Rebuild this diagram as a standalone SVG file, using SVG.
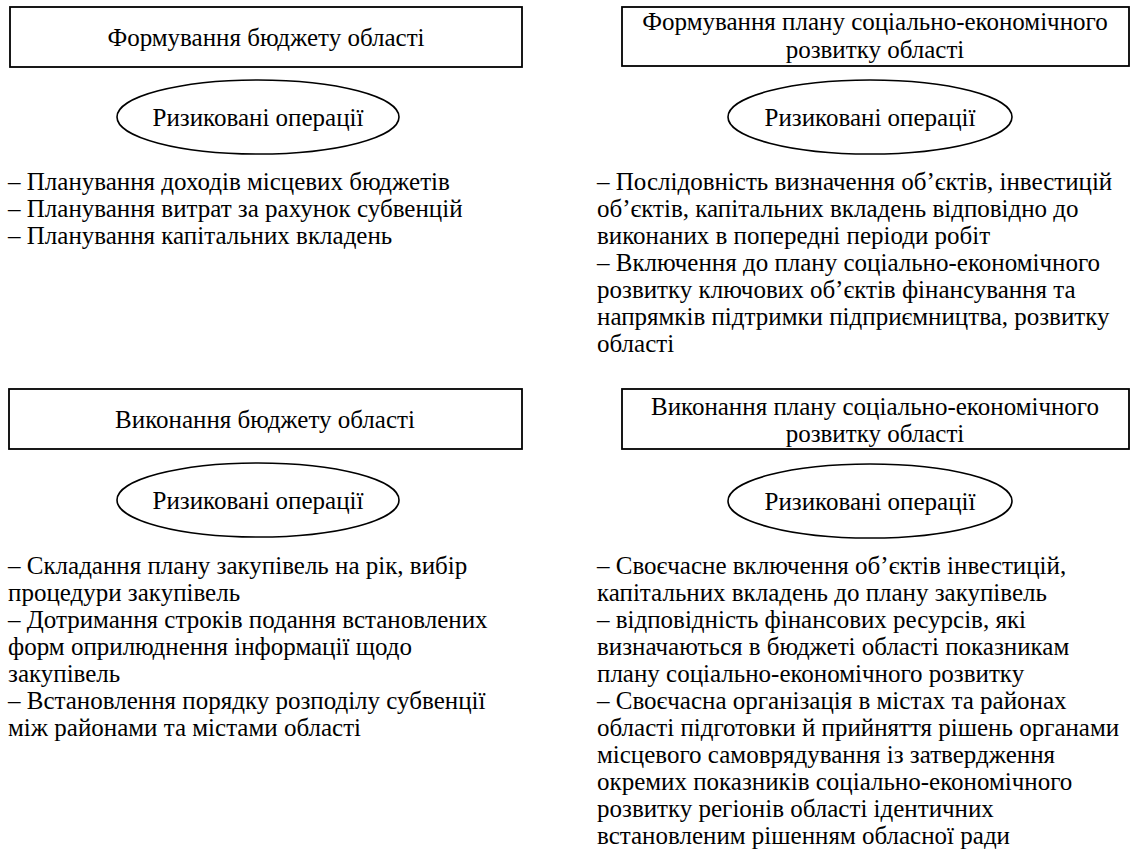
<svg xmlns="http://www.w3.org/2000/svg" width="1131" height="859" viewBox="0 0 1131 859">
<defs>
  <rect id="unused-def" width="0" height="0"/>
</defs>
<rect width="1131" height="859" fill="#ffffff"/>
<g id="connectors"></g>

<g id="box-form-budget">
  <rect fill="#ffffff" stroke="#000000" stroke-width="1.8" x="10" y="7" width="512" height="60"/>
  <text font-family="Liberation Serif" font-size="25" text-anchor="middle" x="266" y="46">Формування бюджету області</text>
</g>
<g id="ell-form-budget">
  <ellipse fill="#ffffff" stroke="#000000" stroke-width="1.6" cx="258" cy="117" rx="141" ry="37"/>
  <text font-family="Liberation Serif" font-size="25" text-anchor="middle" x="258" y="126">Ризиковані операції</text>
</g>
<g id="list-form-budget">
  <text font-family="Liberation Serif" font-size="25" x="8" y="190">– Планування доходів місцевих бюджетів</text>
  <text font-family="Liberation Serif" font-size="25" x="8" y="217">– Планування витрат за рахунок субвенцій</text>
  <text font-family="Liberation Serif" font-size="25" x="8" y="244">– Планування капітальних вкладень</text>
</g>

<g id="box-form-plan">
  <rect fill="#ffffff" stroke="#000000" stroke-width="1.8" x="622" y="7" width="507" height="59"/>
  <text font-family="Liberation Serif" font-size="25" text-anchor="middle" x="875" y="30">Формування плану соціально-економічного</text>
  <text font-family="Liberation Serif" font-size="25" text-anchor="middle" x="875" y="58">розвитку області</text>
</g>
<g id="ell-form-plan">
  <ellipse fill="#ffffff" stroke="#000000" stroke-width="1.6" cx="870" cy="117" rx="142" ry="37"/>
  <text font-family="Liberation Serif" font-size="25" text-anchor="middle" x="870" y="126">Ризиковані операції</text>
</g>
<g id="list-form-plan">
  <text font-family="Liberation Serif" font-size="25" x="597" y="190">– Послідовність визначення об’єктів, інвестицій</text>
  <text font-family="Liberation Serif" font-size="25" x="597" y="217">об’єктів, капітальних вкладень відповідно до</text>
  <text font-family="Liberation Serif" font-size="25" x="597" y="244">виконаних в попередні періоди робіт</text>
  <text font-family="Liberation Serif" font-size="25" x="597" y="271">– Включення до плану соціально-економічного</text>
  <text font-family="Liberation Serif" font-size="25" x="597" y="298">розвитку ключових об’єктів фінансування та</text>
  <text font-family="Liberation Serif" font-size="25" x="597" y="325">напрямків підтримки підприємництва, розвитку</text>
  <text font-family="Liberation Serif" font-size="25" x="597" y="352">області</text>
</g>

<g id="box-exec-budget">
  <rect fill="#ffffff" stroke="#000000" stroke-width="1.8" x="9" y="389" width="513" height="60"/>
  <text font-family="Liberation Serif" font-size="25" text-anchor="middle" x="265" y="428">Виконання бюджету області</text>
</g>
<g id="ell-exec-budget">
  <ellipse fill="#ffffff" stroke="#000000" stroke-width="1.6" cx="258" cy="500" rx="141" ry="37"/>
  <text font-family="Liberation Serif" font-size="25" text-anchor="middle" x="258" y="509">Ризиковані операції</text>
</g>
<g id="list-exec-budget">
  <text font-family="Liberation Serif" font-size="25" x="8" y="574">– Складання плану закупівель на рік, вибір</text>
  <text font-family="Liberation Serif" font-size="25" x="8" y="601">процедури закупівель</text>
  <text font-family="Liberation Serif" font-size="25" x="8" y="628">– Дотримання строків подання встановлених</text>
  <text font-family="Liberation Serif" font-size="25" x="8" y="655">форм оприлюднення інформації щодо</text>
  <text font-family="Liberation Serif" font-size="25" x="8" y="682">закупівель</text>
  <text font-family="Liberation Serif" font-size="25" x="8" y="709">– Встановлення порядку розподілу субвенції</text>
  <text font-family="Liberation Serif" font-size="25" x="8" y="736">між районами та містами області</text>
</g>

<g id="box-exec-plan">
  <rect fill="#ffffff" stroke="#000000" stroke-width="1.8" x="622" y="389" width="507" height="60"/>
  <text font-family="Liberation Serif" font-size="25" text-anchor="middle" x="875" y="415">Виконання плану соціально-економічного</text>
  <text font-family="Liberation Serif" font-size="25" text-anchor="middle" x="875" y="442">розвитку області</text>
</g>
<g id="ell-exec-plan">
  <ellipse fill="#ffffff" stroke="#000000" stroke-width="1.6" cx="870" cy="501" rx="142" ry="37"/>
  <text font-family="Liberation Serif" font-size="25" text-anchor="middle" x="870" y="510">Ризиковані операції</text>
</g>
<g id="list-exec-plan">
  <text font-family="Liberation Serif" font-size="25" x="597" y="574">– Своєчасне включення об’єктів інвестицій,</text>
  <text font-family="Liberation Serif" font-size="25" x="597" y="601">капітальних вкладень до плану закупівель</text>
  <text font-family="Liberation Serif" font-size="25" x="597" y="628">– відповідність фінансових ресурсів, які</text>
  <text font-family="Liberation Serif" font-size="25" x="597" y="655">визначаються в бюджеті області показникам</text>
  <text font-family="Liberation Serif" font-size="25" x="597" y="682">плану соціально-економічного розвитку</text>
  <text font-family="Liberation Serif" font-size="25" x="597" y="709">– Своєчасна організація в містах та районах</text>
  <text font-family="Liberation Serif" font-size="25" x="597" y="736">області підготовки й прийняття рішень органами</text>
  <text font-family="Liberation Serif" font-size="25" x="597" y="763">місцевого самоврядування із затвердження</text>
  <text font-family="Liberation Serif" font-size="25" x="597" y="790">окремих показників соціально-економічного</text>
  <text font-family="Liberation Serif" font-size="25" x="597" y="817">розвитку регіонів області ідентичних</text>
  <text font-family="Liberation Serif" font-size="25" x="597" y="844">встановленим рішенням обласної ради</text>
</g>
</svg>
